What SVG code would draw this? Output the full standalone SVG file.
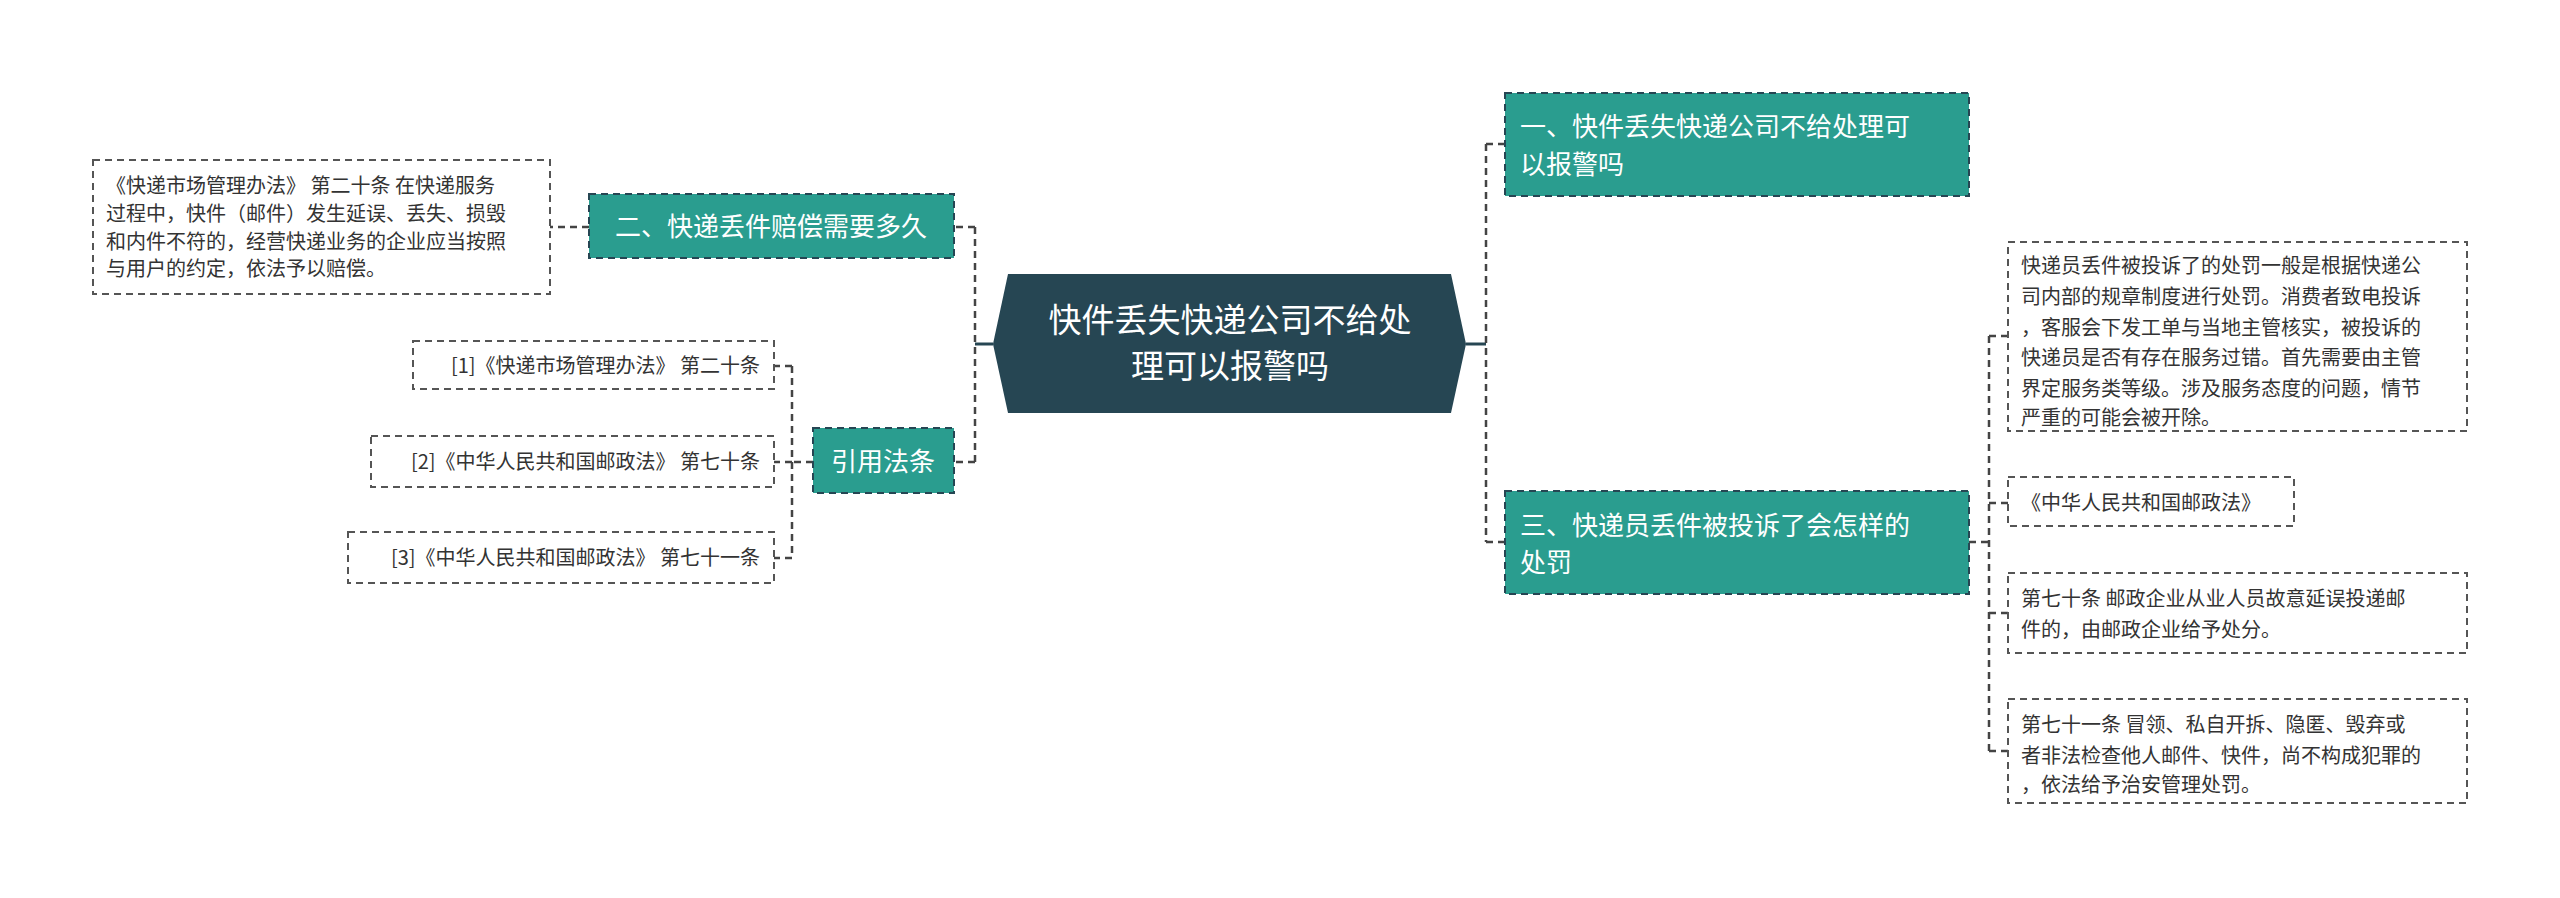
<svg xmlns="http://www.w3.org/2000/svg" width="2560" height="898" viewBox="0 0 2560 898">
<style>
text{font-family:"Noto Sans CJK SC","Liberation Sans",sans-serif}
.t{fill:#2a9d8f;stroke:#264653;stroke-width:2;stroke-dasharray:7 5}
.l{fill:#fff;stroke:#555;stroke-width:2;stroke-dasharray:7 5}
.tw{fill:#fff;font-size:26px}
.tl{fill:#333;font-size:20px}
.c{fill:none;stroke:#444;stroke-width:2.5;stroke-dasharray:7 5}
</style>
<rect width="2560" height="898" fill="#fff"/>
<g id="connectors">
<path d="M993 344H975" stroke="#264653" stroke-width="3" fill="none"/>
<path class="c" d="M975 227V462M975 227H954M975 462H954M589 227H550M813 462H792M792 366V558M792 366H774M792 462H774M792 558H774"/>
<path d="M1466 344H1486" stroke="#264653" stroke-width="3" fill="none"/>
<path class="c" d="M1486 144V542M1486 144H1505M1486 542H1505M1969 542H1989M1989 336V751M1989 336H2008M1989 503H2008M1989 613H2008M1989 751H2008"/>
</g>
<g id="center">
<polygon points="1008,274 1451,274 1466,344 1451,413 1008,413 993,344" fill="#264653"/>
<text x="1230" y="332" fill="#fff" font-size="33" text-anchor="middle">快件丢失快递公司不给处</text>
<text x="1230" y="378" fill="#fff" font-size="33" text-anchor="middle">理可以报警吗</text>
</g>
<g id="n1"><rect class="t" x="1505" y="93" width="464" height="103"/>
<text class="tw" x="1520" y="136">一、快件丢失快递公司不给处理可</text><text class="tw" x="1520" y="174">以报警吗</text></g>
<g id="n3"><rect class="t" x="1505" y="491" width="464" height="103"/>
<text class="tw" x="1520" y="535">三、快递员丢件被投诉了会怎样的</text><text class="tw" x="1520" y="572">处罚</text></g>
<g id="n2"><rect class="t" x="589" y="194" width="365" height="64"/>
<text class="tw" x="771" y="236" text-anchor="middle">二、快递丢件赔偿需要多久</text></g>
<g id="n4"><rect class="t" x="813" y="428" width="141" height="65"/>
<text class="tw" x="883" y="471" text-anchor="middle">引用法条</text></g>
<g id="leafL"><rect class="l" x="93" y="160" width="457" height="134"/>
<text class="tl" x="106" y="193">《快递市场管理办法》 第二十条 在快递服务</text>
<text class="tl" x="106" y="221">过程中，快件（邮件）发生延误、丢失、损毁</text>
<text class="tl" x="106" y="249">和内件不符的，经营快递业务的企业应当按照</text>
<text class="tl" x="106" y="276">与用户的约定，依法予以赔偿。</text></g>
<g id="ref1"><rect class="l" x="413" y="341" width="361" height="48"/><text class="tl" x="760" y="373" text-anchor="end">[1]《快递市场管理办法》 第二十条</text></g>
<g id="ref2"><rect class="l" x="371" y="436" width="403" height="51"/><text class="tl" x="760" y="469" text-anchor="end">[2]《中华人民共和国邮政法》 第七十条</text></g>
<g id="ref3"><rect class="l" x="348" y="532" width="426" height="51"/><text class="tl" x="760" y="565" text-anchor="end">[3]《中华人民共和国邮政法》 第七十一条</text></g>
<g id="leafR1"><rect class="l" x="2008" y="242" width="459" height="189"/>
<text class="tl" x="2021" y="273">快递员丢件被投诉了的处罚一般是根据快递公</text>
<text class="tl" x="2021" y="304">司内部的规章制度进行处罚。消费者致电投诉</text>
<text class="tl" x="2021" y="335">，客服会下发工单与当地主管核实，被投诉的</text>
<text class="tl" x="2021" y="365">快递员是否有存在服务过错。首先需要由主管</text>
<text class="tl" x="2021" y="396">界定服务类等级。涉及服务态度的问题，情节</text>
<text class="tl" x="2021" y="425">严重的可能会被开除。</text></g>
<g id="leafR2"><rect class="l" x="2008" y="477" width="286" height="49"/><text class="tl" x="2021" y="510">《中华人民共和国邮政法》</text></g>
<g id="leafR3"><rect class="l" x="2008" y="573" width="459" height="80"/>
<text class="tl" x="2021" y="606">第七十条 邮政企业从业人员故意延误投递邮</text>
<text class="tl" x="2021" y="637">件的，由邮政企业给予处分。</text></g>
<g id="leafR4"><rect class="l" x="2008" y="699" width="459" height="104"/>
<text class="tl" x="2021" y="732">第七十一条 冒领、私自开拆、隐匿、毁弃或</text>
<text class="tl" x="2021" y="763">者非法检查他人邮件、快件，尚不构成犯罪的</text>
<text class="tl" x="2021" y="792">，依法给予治安管理处罚。</text></g>
</svg>
